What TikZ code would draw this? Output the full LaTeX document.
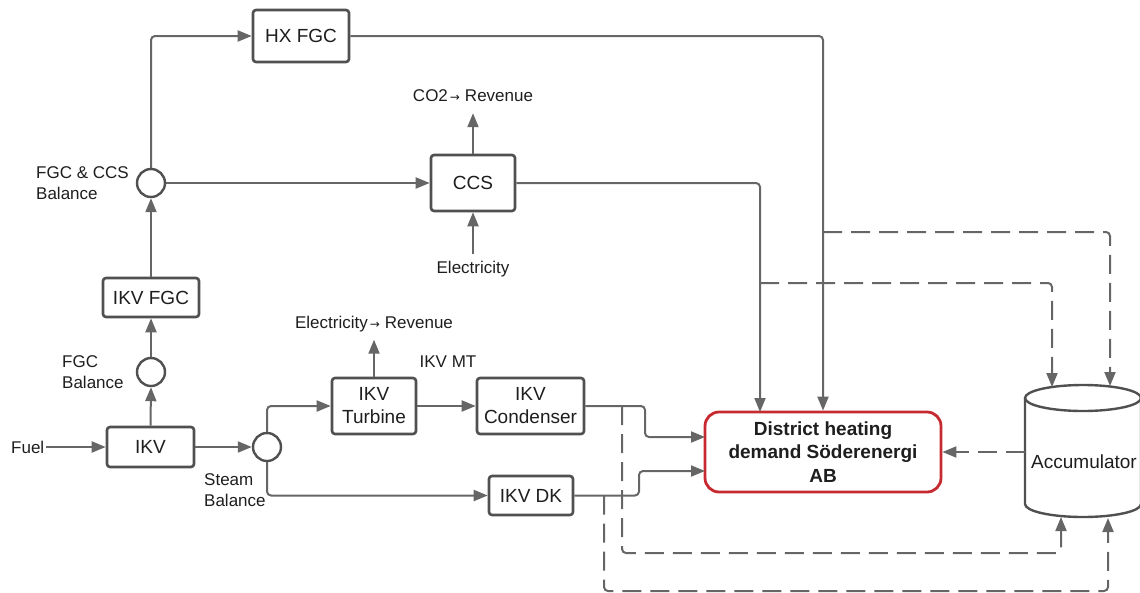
\documentclass[tikz,border=0pt]{standalone}
\usepackage{fontspec}
\setmainfont{Liberation Sans}
\newfontfamily\arrowsym{DejaVu Sans}
\usetikzlibrary{arrows.meta,calc}
\definecolor{lineg}{HTML}{666666}
\definecolor{boxg}{HTML}{505050}
\definecolor{txt}{HTML}{1E1E1E}
\definecolor{dhred}{HTML}{C62A30}
\newcommand{\smallarrow}{{\arrowsym\fontsize{12}{12}\selectfont →}}
\begin{document}
\begin{tikzpicture}[x=1pt,y=-1pt,
  proc/.style={draw=boxg, line width=2.6pt, rounded corners=3pt, fill=white, align=center, text=txt, font=\fontsize{19}{23}\selectfont, inner sep=0pt},
  bal/.style={circle, draw=boxg, line width=2.4pt, minimum size=28pt, inner sep=0pt},
  lbl/.style={text=txt, font=\fontsize{17}{20.5}\selectfont, inner sep=2pt},
  cylst/.style={draw=boxg, line width=2.4pt},
  conn/.style={draw=lineg, line width=2pt, rounded corners=4pt},
  arr/.style={conn, -{Triangle[length=14pt,width=11pt]}},
  darr/.style={arr, dash pattern=on 19pt off 9pt},
]
\useasboundingbox (0,0) rectangle (1140,592);

% process boxes
\node[proc, minimum width=96pt, minimum height=52pt] (hx) at (301,36) {HX FGC};
\node[proc, minimum width=96pt, minimum height=39pt] (ikvfgc) at (151,297.5) {IKV FGC};
\node[proc, minimum width=87pt, minimum height=40pt] (ikv) at (150.5,447) {IKV};
\node[proc, minimum width=84pt, minimum height=56pt] (turb) at (374,406) {IKV\\Turbine};
\node[proc, minimum width=107pt, minimum height=56pt] (cond) at (530.5,406) {IKV\\Condenser};
\node[proc, minimum width=84pt, minimum height=39pt] (dk) at (531,495.5) {IKV DK};
\node[proc, minimum width=84pt, minimum height=56pt] (ccs) at (473,183) {CCS};
\node[proc, draw=dhred, line width=2.8pt, rounded corners=14pt, minimum width=236pt, minimum height=80pt, font=\bfseries\fontsize{19}{23.5}\selectfont] (dh) at (823,452) {District heating\\demand Söderenergi\\AB};

% balance circles
\node[bal] (fc) at (151,183) {};
\node[bal] (fb) at (151,372) {};
\node[bal] (sb) at (267,447) {};

% labels
\node[lbl, anchor=west, align=left] (fclbl) at (34,183) {FGC \& CCS\\Balance};
\node[lbl, anchor=west, align=left] (fblbl) at (60,372) {FGC\\Balance};
\node[lbl, anchor=west] (fuel) at (9,447) {Fuel};
\node[lbl, anchor=west, align=left] (sblbl) at (202,490) {Steam\\Balance};
\node[lbl] (mt) at (448,362) {IKV MT};
\node[lbl] (elrev) at (374,323.6) {Electricity\hspace{2pt}\smallarrow\hspace{5pt}Revenue};
\node[lbl] (co2) at (473,96) {CO2\hspace{2pt}\smallarrow\hspace{5pt}Revenue};
\node[lbl] (elec) at (473,268.6) {Electricity};

% accumulator
\node[minimum width=116pt, minimum height=132pt, inner sep=0pt] (acc) at (1083,452) {};
\draw[cylst] (1025,398) -- (1025,504) arc[start angle=180, end angle=360, x radius=58pt, y radius=13pt] -- (1141,398);
\draw[cylst] (1083,398) ellipse [x radius=58pt, y radius=13pt];
\node[text=txt, font=\fontsize{19}{23}\selectfont] (acctext) at (1084,462) {Accumulator};

% solid connectors
\draw[arr] (fuel.east) -- (ikv.west);
\draw[arr] (ikv.east) -- (sb.west);
\draw[arr] (ikv.north) -- (fb.south);
\draw[arr] (fb.north) -- (ikvfgc.south);
\draw[arr] (ikvfgc.north) -- (fc.south);
\draw[arr] (fc.north) |- (hx.west);
\draw[arr] (fc.east) -- (ccs.west);
\draw[arr, shorten >=9pt] (ccs.north) -- (co2.south);
\draw[arr, shorten <=4pt] (elec.north) -- (ccs.south);
\draw[arr, shorten >=6pt] (turb.north) -- (elrev.south);
\draw[arr] (sb.north) |- (turb.west);
\draw[arr] (sb.south) |- (dk.west);
\draw[arr] (turb.east) -- (cond.west);

\coordinate (dhA) at (705,437);
\coordinate (dhB) at (705,471);
\coordinate (j1) at (645,406);
\coordinate (j2) at (639,495.5);
\draw[arr] (cond.east) -- (j1) |- (dhA);
\draw[arr] (dk.east) -- (j2) |- (dhB);

\coordinate (dhT1) at (760,412);
\draw[arr] (ccs.east) -| (dhT1);
\draw[arr] (hx.east) -| (dh.north);

% dashed connectors
\coordinate (s1) at (823,232);
\coordinate (aT2) at (1110,386);
\draw[darr] (s1) -| (aT2);
\coordinate (s2) at (760,283);
\coordinate (aT1) at (1052,387);
\draw[darr] (s2) -| (aT1);
\coordinate (s3) at (622,406);
\coordinate (k3) at (1061,553);
\coordinate (aB1) at (1061,517);
\draw[darr] (s3) |- (k3) -- (aB1);
\coordinate (s4) at (604,495.5);
\coordinate (k4) at (1108,591);
\coordinate (aB2) at (1108,518);
\draw[darr] (s4) |- (k4) -- (aB2);
\draw[darr] (acc.west) -- (dh.east);
\end{tikzpicture}
\end{document}
